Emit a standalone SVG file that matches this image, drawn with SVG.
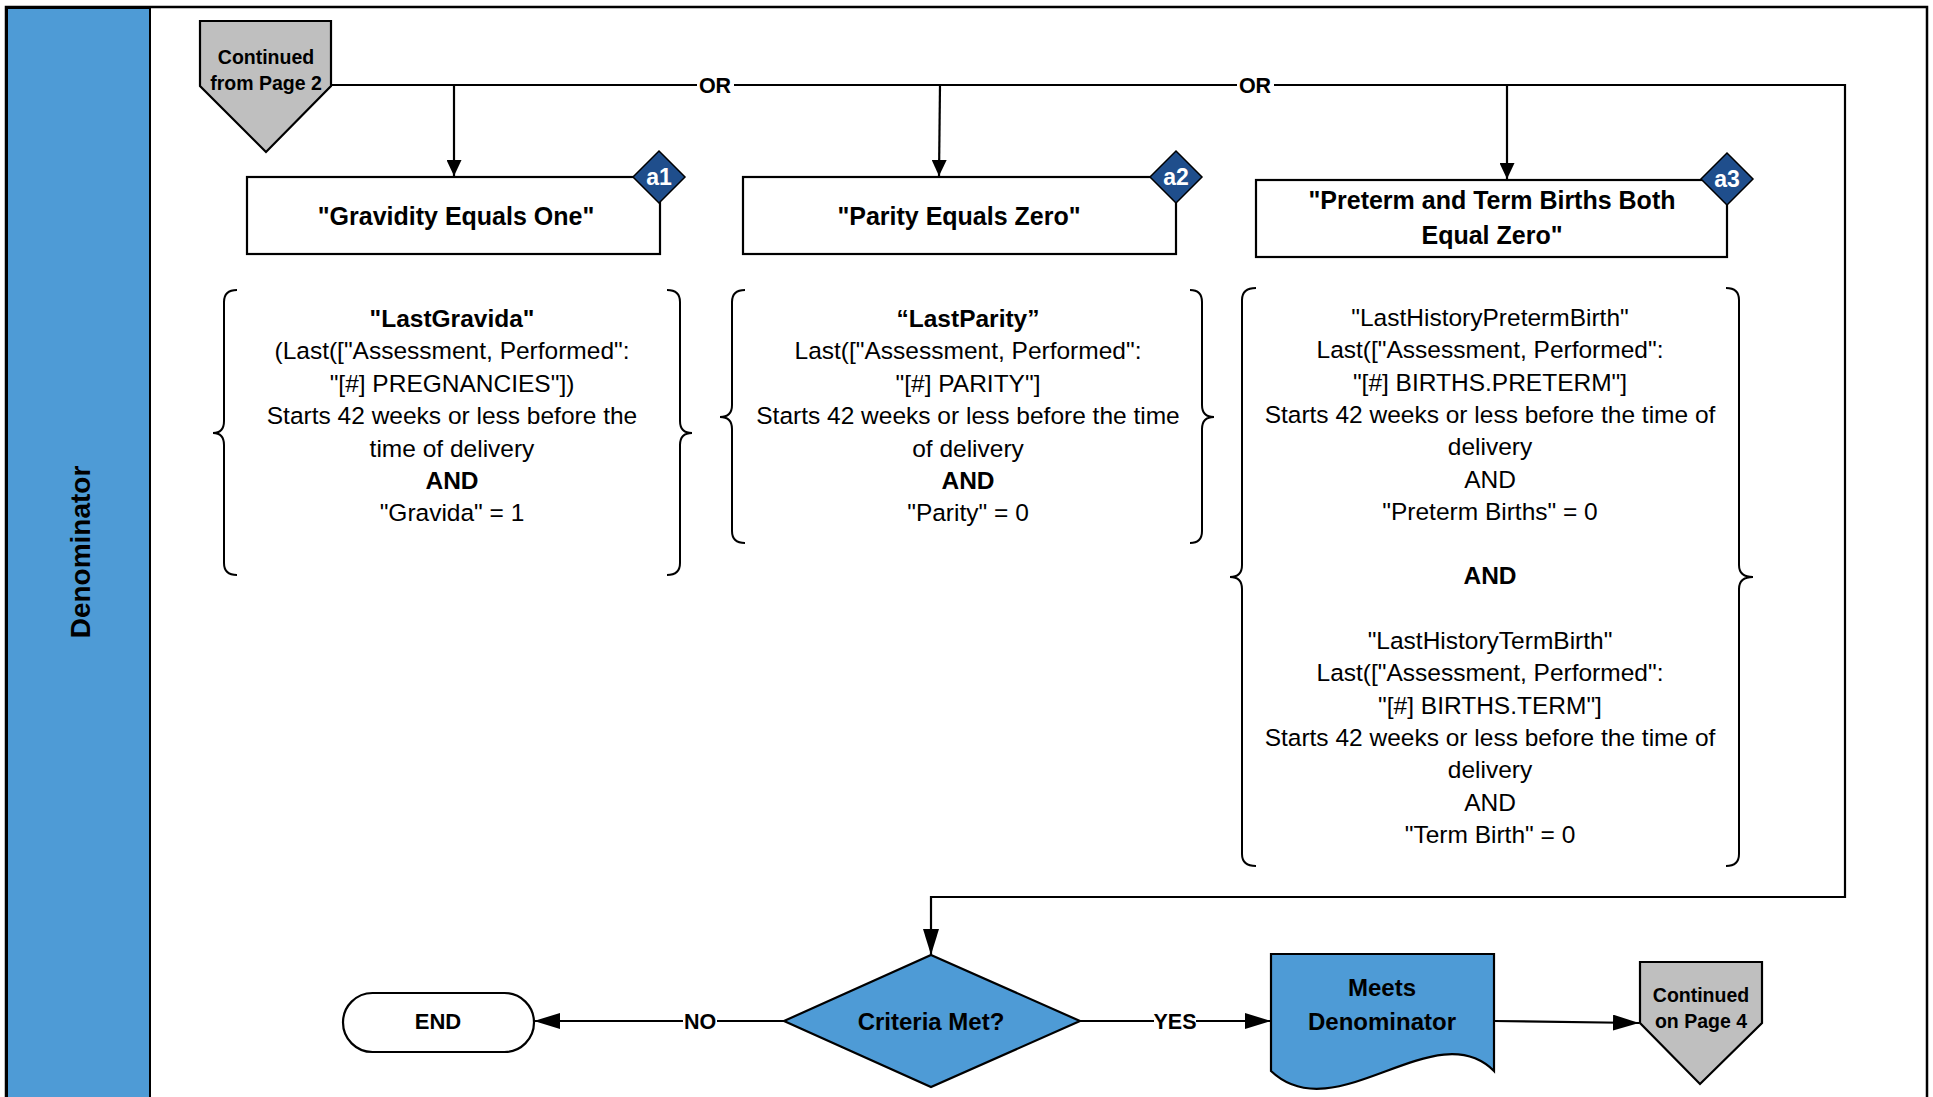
<svg xmlns="http://www.w3.org/2000/svg" width="1933" height="1097" viewBox="0 0 1933 1097">
<defs>
<style>
.ln{fill:none;stroke:#000;stroke-width:2.2}
.box{fill:#fff;stroke:#000;stroke-width:2.2}
.brace{fill:none;stroke:#000;stroke-width:2}
.t{font-family:"Liberation Sans",Arial,sans-serif;fill:#000;text-anchor:middle}
.b{font-weight:bold}
.body{font-size:24.5px}
.ttl{font-size:25px;font-weight:bold}
.lbl{font-size:21.5px;font-weight:bold}
.badge{fill:#1F4E8C;stroke:#000;stroke-width:1.5}
.bt{font-family:"Liberation Sans",Arial,sans-serif;font-size:23px;font-weight:bold;fill:#fff;text-anchor:middle}
.blue{fill:#4E9BD6;stroke:#000;stroke-width:2.2}
.gray{fill:#BFBFBF;stroke:#000;stroke-width:2.2}
</style>
<marker id="ahS" markerUnits="userSpaceOnUse" markerWidth="16" markerHeight="15" refX="16" refY="7.5" orient="auto">
<path d="M0,0 L16,7.5 L0,15 Z" fill="#000"/>
</marker>
<marker id="ahL" markerUnits="userSpaceOnUse" markerWidth="26" markerHeight="16" refX="26" refY="8" orient="auto">
<path d="M0,0 L26,8 L0,16 Z" fill="#000"/>
</marker>
</defs>
<rect x="0" y="0" width="1933" height="1097" fill="#fff"/>
<!-- swimlane -->
<g id="lane">
<rect x="6" y="7" width="1921" height="1100" fill="#fff" stroke="#000" stroke-width="2.5"/>
<rect x="7" y="8" width="143" height="1099" fill="#4E9BD6" stroke="#000" stroke-width="2"/>
<text class="t b" font-size="28" transform="translate(80,552) rotate(-90)" dominant-baseline="central">Denominator</text>
</g>
<!-- connectors -->
<g id="connectors">
<path class="ln" d="M331,85 H1845 V897 H931 V955" marker-end="url(#ahL)"/>
<path class="ln" d="M454,85 V176" marker-end="url(#ahS)"/>
<path class="ln" d="M940,85 L939,176" marker-end="url(#ahS)"/>
<path class="ln" d="M1507,85 V179" marker-end="url(#ahS)"/>
<path class="ln" d="M784,1021 H534" marker-end="url(#ahL)"/>
<path class="ln" d="M1080,1021 H1271" marker-end="url(#ahL)"/>
<path class="ln" d="M1494,1021 L1639,1023" marker-end="url(#ahL)"/>
<rect x="697" y="72" width="37" height="26" fill="#fff"/>
<text class="t lbl" x="715" y="93">OR</text>
<rect x="1237" y="72" width="37" height="26" fill="#fff"/>
<text class="t lbl" x="1255" y="93">OR</text>
<rect x="683" y="1008" width="34" height="26" fill="#fff"/>
<text class="t lbl" x="700" y="1029">NO</text>
<rect x="1154" y="1008" width="42" height="26" fill="#fff"/>
<text class="t lbl" x="1175" y="1029">YES</text>
</g>
<!-- start off-page -->
<g id="from-page2">
<polygon class="gray" points="200,21 331,21 331,86 266,152 200,86"/>
<text class="t b" font-size="19.5" x="266" y="64">Continued</text>
<text class="t b" font-size="19.5" x="266" y="90">from Page 2</text>
</g>
<!-- a1 -->
<g id="a1">
<rect class="box" x="247" y="177" width="413" height="77"/>
<text class="t ttl" x="456" y="225">"Gravidity Equals One"</text>
<polygon class="badge" points="659,151 685,177 659,203 633,177"/>
<text class="bt" x="659" y="185">a1</text>
</g>
<g id="a2">
<rect class="box" x="743" y="177" width="433" height="77"/>
<text class="t ttl" x="959" y="225">"Parity Equals Zero"</text>
<polygon class="badge" points="1176,151 1202,177 1176,203 1150,177"/>
<text class="bt" x="1176" y="185">a2</text>
</g>
<g id="a3">
<rect class="box" x="1256" y="180" width="471" height="77"/>
<text class="t ttl" x="1492" y="209">"Preterm and Term Births Both</text>
<text class="t ttl" x="1492" y="244">Equal Zero"</text>
<polygon class="badge" points="1727,153 1753,179 1727,205 1701,179"/>
<text class="bt" x="1727" y="187">a3</text>
</g>
<!-- criteria 1 -->
<g id="crit-a1">
<path class="brace" d="M237,290 Q224,290 224,302 L224,421 Q224,433 213,433 Q224,433 224,445 L224,563 Q224,575 237,575"/>
<path class="brace" d="M667,290 Q680,290 680,302 L680,421 Q680,433 692,433 Q680,433 680,445 L680,563 Q680,575 667,575"/>
<text class="t body b" x="452" y="327">"LastGravida"</text>
<text class="t body" x="452" y="359.4">(Last(["Assessment, Performed":</text>
<text class="t body" x="452" y="391.8">"[#] PREGNANCIES"])</text>
<text class="t body" x="452" y="424.2">Starts 42 weeks or less before the</text>
<text class="t body" x="452" y="456.6">time of delivery</text>
<text class="t body b" x="452" y="489">AND</text>
<text class="t body" x="452" y="521.4">"Gravida" = 1</text>
</g>
<!-- criteria 2 -->
<g id="crit-a2">
<path class="brace" d="M745,290 Q732,290 732,302 L732,405 Q732,417 720,417 Q732,417 732,429 L732,531 Q732,543 745,543"/>
<path class="brace" d="M1190,290 Q1202,290 1202,302 L1202,405 Q1202,417 1214,417 Q1202,417 1202,429 L1202,531 Q1202,543 1190,543"/>
<text class="t body b" x="968" y="327">“LastParity”</text>
<text class="t body" x="968" y="359.4">Last(["Assessment, Performed":</text>
<text class="t body" x="968" y="391.8">"[#] PARITY"]</text>
<text class="t body" x="968" y="424.2">Starts 42 weeks or less before the time</text>
<text class="t body" x="968" y="456.6">of delivery</text>
<text class="t body b" x="968" y="489">AND</text>
<text class="t body" x="968" y="521.4">"Parity" = 0</text>
</g>
<!-- criteria 3 -->
<g id="crit-a3">
<path class="brace" d="M1256,288 Q1242,288 1242,300 L1242,565 Q1242,577 1230,577 Q1242,577 1242,589 L1242,854 Q1242,866 1256,866"/>
<path class="brace" d="M1726,288 Q1739,288 1739,300 L1739,565 Q1739,577 1753,577 Q1739,577 1739,589 L1739,854 Q1739,866 1726,866"/>
<text class="t body" x="1490" y="326">"LastHistoryPretermBirth"</text>
<text class="t body" x="1490" y="358.3">Last(["Assessment, Performed":</text>
<text class="t body" x="1490" y="390.6">"[#] BIRTHS.PRETERM"]</text>
<text class="t body" x="1490" y="422.9">Starts 42 weeks or less before the time of</text>
<text class="t body" x="1490" y="455.2">delivery</text>
<text class="t body" x="1490" y="487.5">AND</text>
<text class="t body" x="1490" y="519.8">"Preterm Births" = 0</text>
<text class="t body b" x="1490" y="584.4">AND</text>
<text class="t body" x="1490" y="649">"LastHistoryTermBirth"</text>
<text class="t body" x="1490" y="681.3">Last(["Assessment, Performed":</text>
<text class="t body" x="1490" y="713.6">"[#] BIRTHS.TERM"]</text>
<text class="t body" x="1490" y="745.9">Starts 42 weeks or less before the time of</text>
<text class="t body" x="1490" y="778.2">delivery</text>
<text class="t body" x="1490" y="810.5">AND</text>
<text class="t body" x="1490" y="842.8">"Term Birth" = 0</text>
</g>
<!-- decision -->
<g id="criteria-met">
<polygon class="blue" points="931,955 1080,1021 931,1087 784,1021"/>
<text class="t b" font-size="24" x="931" y="1029.5">Criteria Met?</text>
</g>
<g id="end">
<rect class="box" x="343" y="993" width="191" height="59" rx="29.5" ry="29.5"/>
<text class="t b" font-size="22" x="438" y="1029">END</text>
</g>
<g id="meets-denominator">
<path class="blue" d="M1271,954 H1494 V1071 C1435,1012 1335,1132 1271,1071 Z"/>
<text class="t b" font-size="24" x="1382" y="996">Meets</text>
<text class="t b" font-size="24" x="1382" y="1030">Denominator</text>
</g>
<g id="to-page4">
<polygon class="gray" points="1640,962 1762,962 1762,1023 1700,1084 1640,1023"/>
<text class="t b" font-size="19.5" x="1701" y="1002">Continued</text>
<text class="t b" font-size="19.5" x="1701" y="1028">on Page 4</text>
</g>
</svg>
